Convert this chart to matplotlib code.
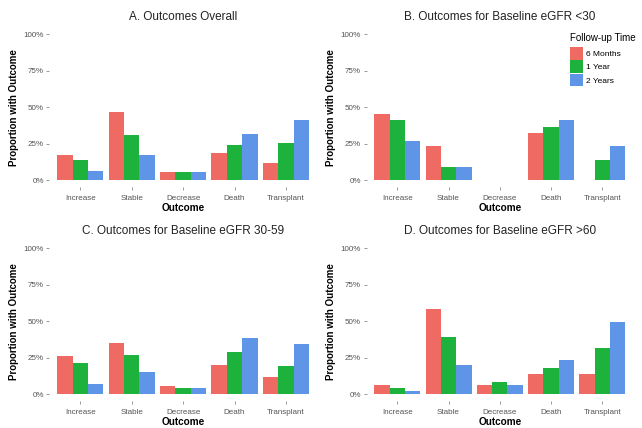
import matplotlib
matplotlib.use('Agg')
import matplotlib.pyplot as plt
from matplotlib.patches import Patch
import numpy as np

plt.rcParams['font.family'] = ['Liberation Sans', 'DejaVu Sans']

outcomes = ['Increase', 'Stable', 'Decrease', 'Death', 'Transplant']
times = ['6 Months', '1 Year', '2 Years']
colors = ['#EE6A63', '#1DB23C', '#5F95E6']

# percent of patients per outcome, rows = 6 months, 1 year, 2 years
overall = [[17.4, 46.4, 5.4, 18.6, 11.5],
           [14.0, 31.2, 5.4, 24.2, 25.8],
           [6.4, 17.4, 5.4, 31.5, 41.2]]
egfr_lt30 = [[45.2, 23.5, 0.0, 32.4, 0.0],
             [41.4, 9.0, 0.0, 36.2, 14.0],
             [27.1, 9.0, 0.0, 41.4, 23.5]]
egfr_30_59 = [[26.2, 35.1, 5.4, 20.1, 11.5],
              [21.3, 26.9, 4.1, 28.7, 19.0],
              [7.2, 14.9, 4.1, 38.7, 34.2]]
egfr_gt60 = [[6.1, 58.1, 6.1, 14.0, 14.0],
             [4.3, 38.9, 8.1, 18.1, 31.4],
             [2.0, 20.1, 6.1, 23.3, 49.5]]

panels = [('A. Outcomes Overall', overall),
          ('B. Outcomes for Baseline eGFR <30', egfr_lt30),
          ('C. Outcomes for Baseline eGFR 30-59', egfr_30_59),
          ('D. Outcomes for Baseline eGFR >60', egfr_gt60)]

fig = plt.figure(figsize=(6.42, 4.28), dpi=100)
boxes = [[0.077, 0.562, 0.4165, 0.375],
         [0.571, 0.562, 0.415, 0.375],
         [0.077, 0.062, 0.4165, 0.375],
         [0.571, 0.062, 0.415, 0.375]]

x = np.arange(len(outcomes))
w = 0.3
for k, ((title, vals), box) in enumerate(zip(panels, boxes)):
    ax = fig.add_axes(box)
    for j in range(3):
        ax.bar(x + (j - 1) * w, vals[j], width=w, color=colors[j], linewidth=0)
    ax.set_xlim(-0.6, 4.6)
    ax.set_ylim(-5, 105)
    ax.set_yticks([0, 25, 50, 75, 100])
    ax.set_yticklabels(['0%', '25%', '50%', '75%', '100%'])
    ax.set_xticks(x)
    ax.set_xticklabels(outcomes)
    ax.tick_params(axis='both', labelsize=5.8, labelcolor='#555555',
                   color='#888888', length=2, width=0.6, pad=2)
    ax.tick_params(axis='x', pad=3.5)
    for s in ax.spines.values():
        s.set_visible(False)
    ax.set_title(title, fontsize=8.5, pad=5, color='#222222')
    ax.set_xlabel('Outcome', fontsize=7.2, fontweight='bold', labelpad=1)
    ax.set_ylabel('Proportion with Outcome', fontsize=7, fontweight='bold', labelpad=3)
    if k == 1:
        handles = [Patch(facecolor=c, edgecolor='none') for c in colors]
        leg = ax.legend(handles, times, title='Follow-up Time', loc='upper left',
                        bbox_to_anchor=(0.74, 1.0), frameon=False, fontsize=6,
                        title_fontsize=7, handlelength=1.65, handleheight=2.0,
                        labelspacing=0.05, handletextpad=0.3, borderpad=0.2,
                        alignment='left')
        leg._legend_box.sep = 3

fig.savefig('out.png', dpi=100)
